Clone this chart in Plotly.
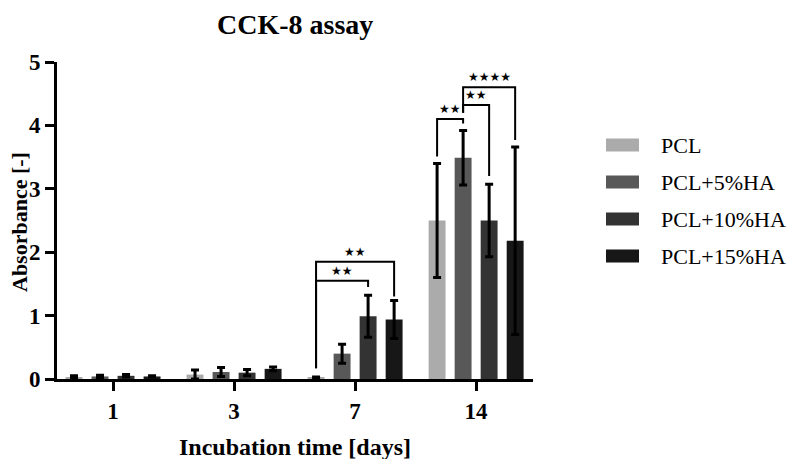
import plotly.graph_objects as go

# ---------------- data ----------------
days = ["1", "3", "7", "14"]
groups = ["PCL", "PCL+5%HA", "PCL+10%HA", "PCL+15%HA"]
pcl = [0.03, 0.07, 0.02, 2.50]
pcl_err = [0.02, 0.07, 0.01, 0.90]
ha5 = [0.04, 0.11, 0.40, 3.49]
ha5_err = [0.02, 0.07, 0.15, 0.43]
ha10 = [0.05, 0.10, 0.99, 2.50]
ha10_err = [0.02, 0.05, 0.33, 0.57]
ha15 = [0.04, 0.16, 0.94, 2.18]
ha15_err = [0.01, 0.03, 0.30, 1.48]

# significance brackets
sig_day = [2, 2, 3, 3, 3]
sig_a = [0, 0, 0, 1, 1]
sig_b = [2, 3, 1, 2, 3]
sig_top = [1.55, 1.85, 4.10, 4.32, 4.60]
sig_left = [0.17, 0.17, 3.51, 4.20, 4.20]
sig_right = [1.45, 1.30, 4.03, 3.20, 3.77]
sig_label = ["**", "**", "**", "**", "****"]

colors = ["#ababab", "#585858", "#333333", "#171717"]
values = [pcl, ha5, ha10, ha15]
errors = [pcl_err, ha5_err, ha10_err, ha15_err]

SERIF = "Liberation Serif, Times New Roman, serif"
BARGAP = 0.14
BARGROUPGAP = 0.35
slot = (1 - BARGAP) / len(groups)

# page offset (browser body margin) compensation
OFF = 8
FW, FH = 796 - OFF, 459 - OFF
L, T, W, H = 57, 62, 476, 317   # plot area in screen pixels

fig = go.Figure()
xs = list(range(len(days)))
for g, name in enumerate(groups):
    fig.add_trace(go.Bar(
        x=xs, y=values[g], name=name,
        marker=dict(color=colors[g], line=dict(width=0)),
        error_y=dict(type="data", array=errors[g], visible=True,
                     color="#000000", thickness=3, width=4),
        showlegend=False,
    ))

def gx(day, grp):
    return day + (grp - (len(groups) - 1) / 2) * slot

for d, a, b, top, lft, rgt, lab in zip(sig_day, sig_a, sig_b, sig_top, sig_left, sig_right, sig_label):
    xa, xb = gx(d, a), gx(d, b)
    fig.add_trace(go.Scatter(
        x=[xa, xa, xb, xb], y=[lft, top, top, rgt], mode="lines",
        line=dict(color="#000000", width=2), showlegend=False, hoverinfo="skip",
    ))
    fig.add_annotation(
        x=(xa + xb) / 2, y=top, text="★" * len(lab), showarrow=False,
        yanchor="bottom", yshift=1,
        font=dict(family="DejaVu Sans", size=12, color="#000000"),
    )

def px_x(p):
    return (p - L) / W
def px_y(p):
    return (T + H - p) / H

# custom legend
leg_y0 = 145
leg_dy = 37
for g, name in enumerate(groups):
    cy = leg_y0 + g * leg_dy
    fig.add_shape(type="rect", xref="paper", yref="paper",
                  x0=px_x(606), x1=px_x(639), y0=px_y(cy + 6.5), y1=px_y(cy - 6.5),
                  fillcolor=colors[g], line=dict(width=0))
    fig.add_annotation(xref="paper", yref="paper", x=px_x(659), y=px_y(cy),
                       text=name, showarrow=False, xanchor="left", yanchor="middle",
                       font=dict(family=SERIF, size=22, color="#000000"))

# axis titles
fig.add_annotation(xref="paper", yref="paper", x=0.5, y=px_y(447),
                   text="Incubation time [days]", showarrow=False,
                   xanchor="center", yanchor="middle", borderpad=0,
                   font=dict(family=SERIF, size=24, color="#000000", weight="bold"))
fig.add_annotation(xref="paper", yref="paper", x=px_x(19), y=px_y(222),
                   text="Absorbance [-]", showarrow=False, textangle=-90,
                   xanchor="center", yanchor="middle", borderpad=0,
                   font=dict(family=SERIF, size=22, color="#000000", weight="bold"))
# title
fig.add_annotation(xref="paper", yref="paper", x=0.5, y=px_y(OFF),
                   text="CCK-8 assay", showarrow=False, borderpad=0,
                   xanchor="center", yanchor="top",
                   font=dict(family=SERIF, size=28, color="#000000", weight="bold"))

fig.update_layout(
    width=FW, height=FH,
    margin=dict(l=L - OFF, r=FW - (L - OFF) - W, t=T - OFF, b=FH - (T - OFF) - H,
                autoexpand=False),
    paper_bgcolor="white", plot_bgcolor="white",
    barmode="group", bargap=BARGAP, bargroupgap=BARGROUPGAP,
    font=dict(family=SERIF, color="#000000"),
)
fig.update_xaxes(
    range=[-0.463, 3.47], tickmode="array", tickvals=xs, ticktext=days,
    showline=True, linecolor="#000000", linewidth=3,
    ticks="outside", ticklen=9, tickwidth=3, tickcolor="#000000",
    showgrid=False, zeroline=False, automargin=False,
    tickfont=dict(family=SERIF, size=23, color="#000000", weight="bold"),
)
fig.update_yaxes(
    range=[0, 5], dtick=1, tick0=0,
    showline=True, linecolor="#000000", linewidth=3,
    ticks="outside", ticklen=9, tickwidth=3, tickcolor="#000000",
    showgrid=False, zeroline=False, automargin=False,
    tickfont=dict(family=SERIF, size=23, color="#000000", weight="bold"),
)

fig.write_html("out.html")
